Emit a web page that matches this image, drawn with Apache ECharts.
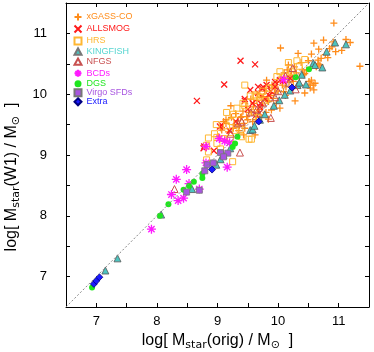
<!DOCTYPE html>
<html>
<head>
<meta charset="utf-8">
<script src="https://cdn.jsdelivr.net/npm/echarts@6/dist/echarts.min.js"></script>
<style>
html,body{margin:0;padding:0;background:#fff;}
#main{width:374px;height:352px;}
</style>
</head>
<body>
<div id="main"></div>
<script>
var axisMin = 6.5, axisMax = 11.5;
var oneToOne = [[6.5, 6.5], [11.5, 11.5]];

var xgassCO = [[9.02,9.30],[9.05,9.45],[9.07,9.41],[9.10,9.55],[9.14,9.52],[9.14,9.58],[9.18,9.38],[9.22,9.81],
    [9.23,9.62],[9.26,9.44],[9.28,9.50],[9.30,9.68],[9.33,9.56],[9.35,9.40],[9.38,9.62],[9.40,9.63],[9.42,9.72],
    [9.43,9.52],[9.43,9.33],[9.45,9.44],[9.47,9.80],[9.48,9.63],[9.50,9.58],[9.52,9.70],[9.55,9.92],[9.56,9.71],
    [9.58,9.55],[9.59,9.79],[9.60,9.85],[9.62,9.33],[9.63,9.66],[9.65,9.90],[9.66,10.00],[9.68,9.75],[9.70,9.62],
    [9.72,9.95],[9.74,9.82],[9.76,9.96],[9.78,10.05],[9.80,9.70],[9.81,10.23],[9.82,9.90],[9.84,9.88],[9.84,9.59],
    [9.86,10.10],[9.88,9.98],[9.89,9.74],[9.90,10.15],[9.92,9.93],[9.94,10.02],[9.95,10.12],[9.95,10.10],[9.97,9.85],
    [9.98,10.20],[10.00,10.05],[10.03,9.77],[10.04,10.76],[10.05,10.28],[10.07,10.15],[10.09,10.04],[10.10,10.35],
    [10.11,10.26],[10.13,10.12],[10.15,10.40],[10.17,10.48],[10.18,10.20],[10.20,10.30],[10.22,10.37],[10.24,10.25],
    [10.25,10.21],[10.27,10.45],[10.28,9.89],[10.30,10.35],[10.33,10.67],[10.35,10.28],[10.36,10.15],[10.38,10.52],
    [10.40,10.40],[10.42,10.32],[10.44,10.34],[10.44,10.02],[10.47,10.40],[10.50,10.55],[10.51,10.21],[10.53,10.10],
    [10.53,10.15],[10.55,10.66],[10.55,10.23],[10.58,10.15],[10.59,10.84],[10.59,10.07],[10.61,10.18],[10.63,10.45],
    [10.66,10.56],[10.66,10.50],[10.67,10.74],[10.69,10.48],[10.71,10.59],[10.75,10.89],[10.78,10.65],[10.82,10.60],
    [10.85,10.75],[10.89,10.78],[10.91,10.86],[10.92,11.17],[10.95,10.70],[11.05,10.72],[11.12,10.90],[11.19,10.85],
    [11.35,10.46],[9.12,9.25],[9.36,9.48],[9.64,9.58],[10.12,9.98]];

var allsmog = [[8.66,9.89],[8.77,9.11],[8.78,9.14],[8.94,9.07],[9.04,9.47],[9.07,9.49],[9.11,10.16],[9.38,10.55],
    [9.62,10.49],[9.45,9.89],[9.45,9.92],[9.54,10.07],[9.58,9.85],[9.64,9.66],[9.67,10.02],[9.67,10.12],[9.69,9.69],
    [9.70,9.79],[9.71,9.85],[9.73,10.10],[9.76,10.11],[9.78,9.93],[9.81,10.15],[9.88,10.05],[9.95,10.12],[10.03,10.23],
    [10.20,10.26],[9.30,9.55],[9.20,9.40],[9.50,9.75],[9.85,9.98],[9.95,10.20],[10.08,10.22]];

var hrs = [[8.82,8.92],[8.82,9.16],[8.85,9.05],[8.85,9.28],[8.99,9.19],[8.99,9.29],[8.98,9.50],[9.10,9.27],
    [9.15,9.48],[9.15,9.70],[9.21,9.27],[9.22,9.55],[9.25,8.89],[9.26,9.67],[9.32,9.77],[9.37,9.42],[9.40,9.30],
    [9.42,9.85],[9.45,9.81],[9.45,10.15],[9.52,9.26],[9.54,9.97],[9.56,9.26],[9.62,9.99],[9.64,9.97],[9.70,9.95],
    [9.75,10.05],[9.85,10.10],[9.98,10.29],[10.03,10.37],[10.10,10.30],[10.17,10.52],[10.22,10.37],[10.31,10.55],
    [10.35,10.46],[10.44,10.57],[9.60,9.70],[9.80,9.90],[9.30,9.40],[9.05,9.10],[8.95,9.35],[9.68,9.62]];

var kingfish = [[7.15,7.10],[7.35,7.30],[8.07,8.02],[8.58,8.44],[8.98,8.84],[9.05,8.93],[9.10,9.00],[9.21,9.11],
    [9.54,9.41],[9.58,9.42],[9.61,9.48],[9.78,9.67],[9.93,9.81],[10.02,9.90],[10.11,9.99],[10.32,10.15],[10.35,10.19],
    [10.39,10.32],[10.46,10.16],[10.58,10.51],[10.61,10.48],[10.73,10.44],[10.80,10.70],[10.94,10.85],[11.12,10.82],
    [10.20,10.06],[9.70,9.58]];

var nfgs = [[8.29,8.44],[9.37,9.04],[9.88,9.61],[10.24,10.43],[10.18,10.19],[10.29,10.08],[9.34,9.52],[9.55,9.70],
    [9.75,9.85],[10.00,10.05],[9.95,9.95],[9.40,9.55],[9.65,9.75],[9.22,9.35],[10.12,10.30]];

var bcds = [[7.91,7.78],[8.24,8.35],[8.32,8.60],[8.35,8.25],[8.44,8.29],[8.49,8.76],[8.53,8.53],[8.70,8.44],
    [8.81,8.87],[8.81,9.14],[9.03,9.27],[9.12,9.23],[9.16,8.80],[9.20,9.20],[10.09,10.24]];

var dgs = [[6.93,6.82],[8.05,8.00],[8.19,8.19],[8.44,8.43],[8.53,8.49],[8.61,8.56],[8.75,8.62],[8.75,8.69],
    [9.25,9.13],[9.29,9.19],[9.33,9.30],[10.29,10.28],[10.51,10.41]];

var virgoSFDs = [[8.49,8.39],[8.70,8.42],[8.79,8.74],[8.83,8.84],[8.93,8.87],[9.05,9.04],[9.17,9.03],[9.10,8.97]];

var extra = [[6.96,6.88],[7.00,6.93],[7.05,6.99],[8.91,8.76],[9.68,9.55],[10.23,10.11]];

var plusPath = 'path://M0,-5L0,5M-5,0L5,0';
var crossPath = 'path://M-5,-5L5,5M-5,5L5,-5';
var starPath = 'path://M0,-5L0,5M-5,0L5,0M-3.5,-3.5L3.5,3.5M-3.5,3.5L3.5,-3.5';
var sqPath = 'path://M-5,-5L5,-5L5,5L-5,5Z';
var triPath = 'path://M0,-5L5,4L-5,4Z';

var myChart = echarts.init(document.getElementById('main'));

var mkSeries = function (name, data, symbol, size, fill, stroke, lw) {
    return {
        name: name,
        type: 'scatter',
        data: data,
        symbol: symbol,
        symbolSize: size,
        itemStyle: {color: fill, borderColor: stroke, borderWidth: lw, opacity: 1},
        emphasis: {disabled: true}
    };
};

var tickLabel = function (v) {
    return Math.abs(v - Math.round(v)) < 1e-6 && v > axisMin && v < axisMax ? String(Math.round(v)) : '';
};

var baseAxis = {
    type: 'value', min: axisMin, max: axisMax, interval: 0.5,
    axisLine: {show: true, lineStyle: {color: '#000', width: 1}},
    axisTick: {show: true, inside: true, length: 4, lineStyle: {color: '#000'}},
    splitLine: {show: false}
};

var titleRich = {
    m: {fontSize: 16, fontFamily: 'Liberation Sans', color: '#000', lineHeight: 20, verticalAlign: 'middle'},
    s: {fontSize: 11, fontFamily: 'DejaVu Sans', color: '#000', lineHeight: 12, verticalAlign: 'bottom'}
};

option = {
    animation: false,
    backgroundColor: '#fff',
    grid: {left: 66, right: 5, top: 3, bottom: 45, outerBoundsMode: 'none', containLabel: false},
    legend: {
        left: 72, top: 11, orient: 'vertical', padding: 0,
        itemWidth: 7, itemHeight: 7, itemGap: 0,
        textStyle: {fontSize: 9, fontFamily: 'Liberation Sans'},
        data: [
            {name: 'xGASS-CO', textStyle: {color: '#ff8c1a'}},
            {name: 'ALLSMOG', textStyle: {color: '#ff1a1a'}},
            {name: 'HRS', textStyle: {color: '#ffb732'}},
            {name: 'KINGFISH', textStyle: {color: '#55d5d0'}, itemStyle: {borderColor: '#777'}},
            {name: 'NFGS', textStyle: {color: '#c85050'}},
            {name: 'BCDs', textStyle: {color: '#ff1aff'}},
            {name: 'DGS', textStyle: {color: '#1ee61e'}},
            {name: 'Virgo SFDs', textStyle: {color: '#a855e0'}},
            {name: 'Extra', textStyle: {color: '#1a1aff'}}
        ]
    },
    xAxis: [
        Object.assign({}, baseAxis, {
            position: 'bottom',
            axisLabel: {formatter: tickLabel, fontSize: 13, fontFamily: 'Liberation Sans', color: '#000', margin: 8},
            name: '{m|log[ M}{s|star}{m|(orig) / M}{s|\u2299}{m|  ]}',
            nameLocation: 'middle', nameGap: 16,
            nameTextStyle: {rich: titleRich}
        }),
        Object.assign({}, baseAxis, {position: 'top', axisLabel: {show: false}})
    ],
    yAxis: [
        Object.assign({}, baseAxis, {
            position: 'left',
            axisLabel: {formatter: tickLabel, fontSize: 13, fontFamily: 'Liberation Sans', color: '#000', margin: 19},
            name: '{m|log[ M}{s|star}{m|(W1) / M}{s|\u2299}{m|  ]}',
            nameLocation: 'middle', nameGap: 37, nameRotate: 90,
            nameTextStyle: {rich: titleRich, padding: [0, 44, 0, 0]}
        }),
        Object.assign({}, baseAxis, {position: 'right', axisLabel: {show: false}})
    ],
    series: [
        {
            type: 'line', data: oneToOne, symbol: 'none', silent: true,
            lineStyle: {color: '#888', width: 1, type: [2, 2]}
        },
        mkSeries('xGASS-CO', xgassCO, plusPath, 7, 'none', '#ff8c1a', 1.3),
        mkSeries('ALLSMOG', allsmog, crossPath, 6, 'none', '#ff1a1a', 1.3),
        mkSeries('HRS', hrs, sqPath, 6, 'none', '#ffb732', 1),
        mkSeries('KINGFISH', kingfish, triPath, 7, '#4cc4c0', '#555', 0.8),
        mkSeries('NFGS', nfgs, triPath, 7, 'none', '#c85050', 1),
        mkSeries('BCDs', bcds, starPath, 9, 'none', '#ff1aff', 1.3),
        mkSeries('DGS', dgs, 'circle', 6, '#1ee61e', '#1ee61e', 0),
        mkSeries('Virgo SFDs', virgoSFDs, 'rect', 6, '#a855e0', '#777', 0.8),
        mkSeries('Extra', extra, 'diamond', 7, '#1a1aff', '#000080', 0.8)
    ]
};
myChart.setOption(option);
</script>
</body>
</html>
